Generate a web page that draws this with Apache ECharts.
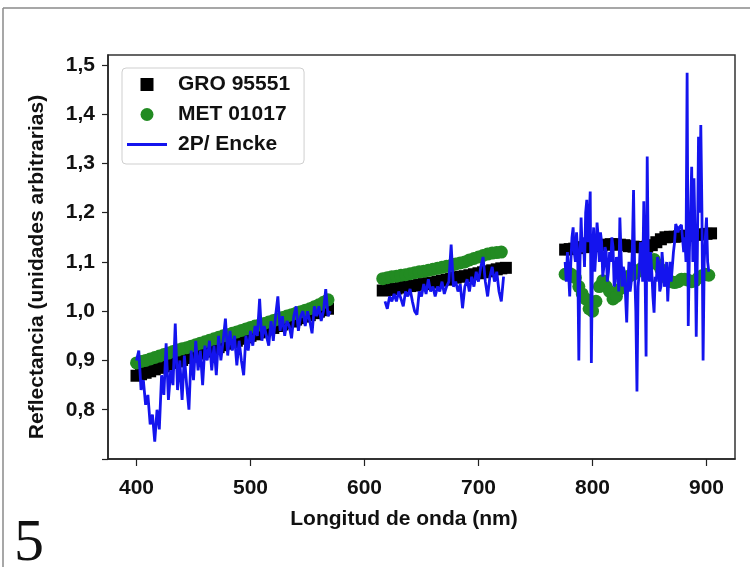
<!DOCTYPE html>
<html>
<head>
<meta charset="utf-8">
<script src="https://cdn.jsdelivr.net/npm/echarts@6/dist/echarts.min.js"></script>
<style>
html,body{margin:0;padding:0;background:#fff;}
#chart{width:750px;height:567px;}
</style>
</head>
<body>
<div id="chart"></div>
<script>
// ---- data ----
const xTicks = [400, 500, 600, 700, 800, 900];
const yTicks = [0.7, 0.8, 0.9, 1.0, 1.1, 1.2, 1.3, 1.4, 1.5];
const yLabels = [0.8, 0.9, 1.0, 1.1, 1.2, 1.3, 1.4, 1.5];

const groNm = [400,404,408,412,416,420,424,428,432,436,440,444,448,452,456,460,464,468,472,476,480,484,488,492,496,500,504,508,512,516,520,524,528,532,536,540,544,548,552,556,560,564,568,
  null,
  616,620,624,628,632,636,640,644,648,652,656,660,664,668,672,676,680,684,688,692,696,700,704,708,712,716,720,724,
  null,
  776,780,784,788,792,796,800,804,808,812,816,820,824,828,832,836,840,844,848,852,856,860,864,868,872,876,880,884,888,892,896,900,904];
const groVal = [0.869,0.872,0.875,0.878,0.882,0.885,0.888,0.892,0.895,0.898,0.901,0.905,0.908,0.911,0.914,0.918,0.921,0.924,0.927,0.931,0.934,0.937,0.940,0.944,0.947,0.950,0.953,0.957,0.960,0.963,0.966,0.970,0.973,0.976,0.979,0.983,0.986,0.989,0.992,0.996,0.999,1.002,1.005,
  null,
  1.042,1.043,1.045,1.046,1.048,1.049,1.051,1.052,1.054,1.055,1.057,1.058,1.060,1.062,1.064,1.066,1.068,1.070,1.071,1.073,1.075,1.077,1.079,1.081,1.083,1.085,1.087,1.088,
  null,
  1.125,1.126,1.127,1.128,1.130,1.131,1.132,1.133,1.134,1.135,1.136,1.136,1.135,1.134,1.132,1.131,1.130,1.130,1.131,1.134,1.140,1.146,1.150,1.151,1.151,1.152,1.153,1.153,1.154,1.155,1.156,1.157,1.158];

const metNm = [400,404,408,412,416,420,424,428,432,436,440,444,448,452,456,460,464,468,472,476,480,484,488,492,496,500,504,508,512,516,520,524,528,532,536,540,544,548,552,556,560,564,568,
  null,
  616,620,624,628,632,636,640,644,648,652,656,660,664,668,672,676,680,684,688,692,696,700,704,708,712,716,720,
  null,
  776,779,782,785,788,791,794,797,800,803,806,809,812,815,818,821,824,827,830,833,836,839,842,845,848,851,854,857,860,863,866,869,872,875,878,881,884,887,890,893,896,899,902];
const metVal = [0.895,0.898,0.900,0.903,0.906,0.909,0.912,0.915,0.918,0.921,0.924,0.926,0.929,0.932,0.935,0.938,0.941,0.944,0.947,0.950,0.952,0.955,0.958,0.961,0.964,0.967,0.970,0.972,0.975,0.978,0.981,0.984,0.987,0.990,0.993,0.996,0.999,1.002,1.005,1.009,1.013,1.018,1.023,
  null,
  1.066,1.068,1.070,1.071,1.073,1.074,1.076,1.078,1.080,1.081,1.083,1.085,1.087,1.089,1.091,1.093,1.096,1.098,1.100,1.104,1.107,1.110,1.113,1.116,1.118,1.119,1.120,
  null,
  1.075,1.078,1.074,1.068,1.050,1.035,1.025,1.005,1.000,1.020,1.050,1.062,1.050,1.040,1.025,1.030,1.045,1.060,1.070,1.072,1.075,1.080,1.085,1.090,1.095,1.100,1.105,1.095,1.085,1.075,1.065,1.060,1.058,1.060,1.065,1.065,1.063,1.060,1.062,1.068,1.072,1.075,1.073];

const enckeNm = [400,402,404,406,408,410,412,414,416,418,420,422,424,426,428,430,432,434,436,438,440,442,444,446,448,450,452,454,456,458,460,462,464,466,468,470,472,474,476,478,480,482,484,486,488,490,492,494,496,498,500,502,504,506,508,510,512,514,516,518,520,522,524,526,528,530,532,534,536,538,540,542,544,546,548,550,552,554,556,558,560,562,564,566,568,570,
  null,
  618,620,622,624,626,628,630,632,634,636,638,640,642,644,646,648,650,652,654,656,658,660,662,664,666,668,670,672,674,676,678,680,682,684,686,688,690,692,694,696,698,700,702,704,706,708,710,712,714,716,718,720,722,
  null,
  776,777,778,779,780,781,782,783,784,785,786,787,788,789,790,791,792,793,794,795,796,797,798,799,800,
  801,802,803,804,805,806,807,808,809,810,811,812,813,814,815,816,817,818,819,820,821,822,823,824,825,
  826,827,828,829,830,831,832,833,834,835,836,837,838,839,840,841,842,843,844,845,846,847,848,849,850,
  851,852,853,854,855,856,857,858,859,860,861,862,863,864,865,866,867,868,869,870,871,872,873,874,875,
  876,877,878,879,880,881,882,883,884,885,886,887,888,889,890,891,892,893,894,895,896,897,898,899,900,
  901,902];
const enckeVal = [0.90,0.92,0.84,0.86,0.81,0.83,0.77,0.79,0.735,0.80,
  0.76,0.87,0.83,0.935,0.82,0.88,0.85,0.975,0.84,0.90,
  0.82,0.91,0.85,0.80,0.92,0.86,0.94,0.88,0.92,0.85,
  0.93,0.90,0.94,0.88,0.93,0.87,0.95,0.90,0.94,0.985,
  0.91,0.96,0.92,0.95,0.89,0.94,0.90,0.87,0.95,0.92,
  0.96,0.93,0.97,0.95,1.025,0.94,0.97,0.95,0.93,0.98,
  0.94,0.99,1.03,0.96,0.99,0.95,0.98,0.97,0.945,0.99,
  1.01,0.96,0.99,1.00,0.97,1.00,0.98,0.955,1.01,0.99,
  1.01,0.98,1.00,1.045,0.99,1.00,
  null,
  1.02,1.005,1.03,1.02,1.035,1.02,1.04,1.025,1.01,1.04,1.03,1.045,1.02,1.00,0.993,1.04,1.03,1.055,1.035,1.065,1.04,1.05,1.03,1.05,1.04,1.06,1.035,1.05,1.06,1.135,1.05,1.06,1.04,1.055,1.006,1.05,1.065,1.04,1.07,1.05,1.08,1.06,1.09,1.11,1.06,1.03,1.07,1.09,1.06,1.08,1.04,1.02,1.07,
  null,
  1.10,1.06,1.12,1.08,1.03,1.10,1.15,1.17,1.12,1.10,1.16,1.12,0.90,1.10,1.19,1.12,1.15,1.09,1.20,1.226,1.14,1.18,1.243,0.895,1.12,
  1.17,1.08,1.12,1.18,1.15,1.10,1.16,1.14,1.07,1.09,1.13,1.12,1.06,1.08,1.12,1.10,1.15,1.13,1.05,1.06,1.11,1.10,1.04,1.19,1.12,
  1.05,1.09,1.08,1.03,0.977,1.06,1.10,1.04,1.06,1.13,1.246,1.08,1.00,0.837,1.05,1.08,1.14,1.12,1.06,1.223,1.10,0.908,1.314,1.09,1.06,
  1.12,1.08,1.03,0.997,1.07,1.06,1.11,1.10,1.04,1.05,1.12,1.09,1.05,1.06,1.10,1.02,1.07,1.10,1.06,1.09,1.12,1.14,1.177,1.17,1.16,
  1.17,1.17,1.175,1.175,1.12,1.15,1.10,1.484,0.97,1.12,1.20,1.293,1.10,1.27,1.15,0.948,1.12,1.354,1.20,1.378,1.20,0.90,1.10,1.15,1.19,
  1.10,1.08];

function zip(xs, ys) {
  return xs.map((x, i) => (x === null ? [null, null] : [x, ys[i]]));
}

const FONT = '"Liberation Sans", Arial, sans-serif';
const fmt = v => v.toFixed(1).replace('.', ',');

const chart = echarts.init(document.getElementById('chart'), null, {renderer: 'canvas'});
chart.setOption({
  animation: false,
  backgroundColor: '#ffffff',
  grid: {left: 108, right: 15, top: 55, bottom: 108, show: true, borderColor: '#333', borderWidth: 1.5, backgroundColor: 'transparent'},
  legend: {
    left: 122, top: 68, orient: 'vertical',
    itemWidth: 40, itemHeight: 13, itemGap: 9, symbolKeepAspect: true,
    padding: [6, 14, 9, 5],
    backgroundColor: '#fff', borderColor: '#cfcfcf', borderWidth: 1, borderRadius: 4,
    textStyle: {fontFamily: FONT, fontWeight: 'bold', fontSize: 21, color: '#111', padding: [0, 0, 0, 6]},
    data: [
      {name: 'GRO 95551', icon: 'path://M0,0H12V12H0Z', itemStyle: {color: '#000', opacity: 1}},
      {name: 'MET 01017', icon: 'path://M6,0A6,6,0,1,1,6,12A6,6,0,1,1,6,0Z', itemStyle: {color: '#228b22', opacity: 1}},
      {name: '2P/ Encke', icon: 'path://M0,0H40V3H0Z', itemStyle: {color: '#1414ee'}}
    ]
  },
  xAxis: {
    type: 'value', min: 375, max: 925,
    name: 'Longitud de onda (nm)', nameLocation: 'middle', nameGap: 50,
    nameTextStyle: {fontFamily: FONT, fontWeight: 'bold', fontSize: 21, color: '#111', padding: [0, 35, 0, 0]},
    axisLine: {show: true, lineStyle: {color: '#222', width: 1.5}},
    axisTick: {show: true, length: 7, customValues: xTicks, lineStyle: {color: '#222', width: 1.2}},
    axisLabel: {customValues: xTicks, margin: 19, fontFamily: FONT, fontWeight: 'bold', fontSize: 21, color: '#111'},
    splitLine: {show: false}
  },
  yAxis: {
    type: 'value', min: 0.7, max: 1.52,
    name: 'Reflectancia (unidades arbitrarias)', nameLocation: 'middle', nameGap: 60,
    nameTextStyle: {fontFamily: FONT, fontWeight: 'bold', fontSize: 21, color: '#111', padding: [0, 20, 0, 0]},
    axisLine: {show: true, lineStyle: {color: '#222', width: 1.5}},
    axisTick: {show: true, length: 6, customValues: yTicks, lineStyle: {color: '#222', width: 1.2}},
    axisLabel: {customValues: yLabels, margin: 13, fontFamily: FONT, fontWeight: 'bold', fontSize: 21, color: '#111', formatter: fmt},
    splitLine: {show: false}
  },
  graphic: [
    {type: 'line', shape: {x1: 3, y1: 8, x2: 750, y2: 8}, style: {stroke: '#8a8a8a', lineWidth: 1.5}},
    {type: 'line', shape: {x1: 3, y1: 8, x2: 3, y2: 567}, style: {stroke: '#8a8a8a', lineWidth: 1.5}},
    {type: 'text', left: 14, top: 514, style: {text: '5', font: '60px "Liberation Serif", "DejaVu Serif", serif', fill: '#111'}}
  ],
  series: [
    {name: 'GRO 95551', type: 'scatter', symbol: 'rect', symbolSize: 12, itemStyle: {color: '#000', opacity: 1}, data: zip(groNm, groVal), z: 2},
    {name: 'MET 01017', type: 'scatter', symbol: 'circle', symbolSize: 13, itemStyle: {color: '#228b22', opacity: 1}, data: zip(metNm, metVal), z: 3},
    {name: '2P/ Encke', type: 'line', symbol: 'none', showSymbol: false, connectNulls: false, lineStyle: {color: '#1414ee', width: 2.8}, itemStyle: {color: '#1414ee'}, data: zip(enckeNm, enckeVal), z: 4}
  ]
});
</script>
</body>
</html>
